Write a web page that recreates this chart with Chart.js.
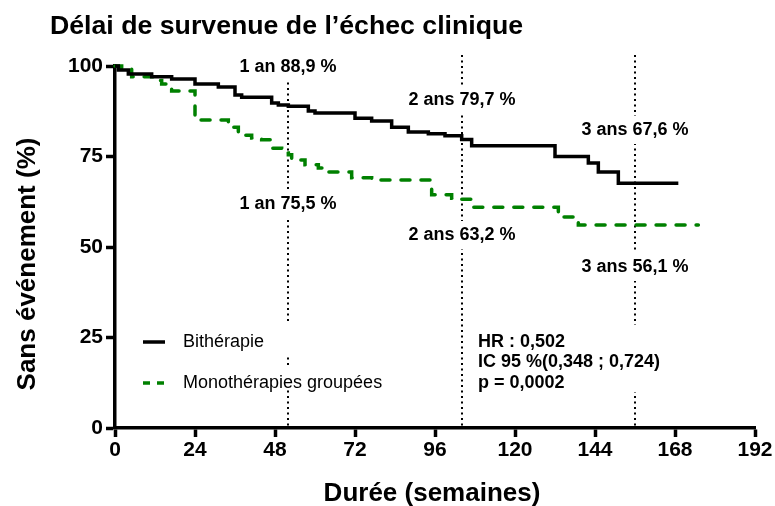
<!DOCTYPE html>
<html lang="fr">
<head>
<meta charset="utf-8">
<title>Délai de survenue de l’échec clinique</title>
<script src="https://cdn.jsdelivr.net/npm/chart.js@4.4.1/dist/chart.umd.min.js"></script>
<style>
  html, body { margin: 0; padding: 0; background: #fff; }
  #wrap { width: 775px; height: 506px; }
</style>
</head>
<body>
<div id="wrap"><canvas id="chart" width="775" height="506"></canvas></div>
<script>
// courbes de Kaplan-Meier (semaines, % sans événement)
const weeksBi  = [0, 1, 4, 11, 17, 24, 31, 36, 38, 47, 49, 52, 58, 60, 72, 77, 83, 88, 94, 99, 104, 107, 132, 142, 145, 151, 169];
const survieBi = [100, 98.9, 97.8, 97.0, 96.4, 95.0, 94.2, 92.0, 91.4, 89.8, 89.2, 88.9, 87.6, 87.0, 85.6, 84.8, 83.1, 81.8, 81.3, 80.7, 79.7, 78.0, 75.0, 73.2, 70.7, 67.6, 67.6];

const weeksMono  = [0, 2, 5, 12, 14, 17, 24, 34, 37, 41, 44, 47, 50, 52, 53, 57, 61, 64, 71, 77, 95, 101, 104, 107, 133, 139, 175];
const survieMono = [100, 99.3, 97.0, 96.0, 95.0, 93.1, 85.1, 83.1, 80.9, 80.1, 79.6, 77.3, 76.0, 75.5, 74.0, 72.7, 71.8, 70.7, 69.1, 68.5, 64.4, 63.5, 63.2, 61.0, 58.3, 56.1, 56.1];

const seriesNames = ['Bithérapie', 'Monothérapies groupées'];

// repères 1, 2 et 3 ans
const milestoneWeeks = [52, 104, 156];
const labelsBi   = ['1 an 88,9 %', '2 ans 79,7 %', '3 ans 67,6 %'];
const labelsMono = ['1 an 75,5 %', '2 ans 63,2 %', '3 ans 56,1 %'];

const statsLines = ['HR : 0,502', 'IC 95 %(0,348 ; 0,724)', 'p = 0,0002'];

const xTickValues = [0, 24, 48, 72, 96, 120, 144, 168, 192];
const yTickValues = [0, 25, 50, 75, 100];

const FONT = '"Liberation Sans", Arial, sans-serif';
const GREEN = 'rgb(0,128,0)';

Chart.defaults.font.family = FONT;
Chart.defaults.color = '#000';

function toPoints(xs, ys) {
    return xs.map((x, i) => ({ x: x, y: ys[i] }));
}

function boxedText(ctx, text, cx, cy) {
    ctx.font = 'bold 18px ' + FONT;
    const w = ctx.measureText(text).width;
    ctx.fillStyle = '#fff';
    ctx.fillRect(cx - w / 2 - 4, cy - 14, w + 8, 28);
    ctx.fillStyle = '#000';
    ctx.textAlign = 'center';
    ctx.textBaseline = 'middle';
    ctx.fillText(text, cx, cy);
}

const annotations = {
    id: 'annotations',
    beforeDatasetsDraw(chart) {
        const { ctx, chartArea } = chart;
        const x = chart.scales.x;
        ctx.save();
        ctx.strokeStyle = '#000';
        ctx.lineWidth = 2;
        ctx.setLineDash([2, 3.5]);
        milestoneWeeks.forEach(w => {
            const px = Math.round(x.getPixelForValue(w));
            ctx.beginPath();
            ctx.moveTo(px, 55);
            ctx.lineTo(px, chartArea.bottom);
            ctx.stroke();
        });
        ctx.restore();
    },
    afterDatasetsDraw(chart) {
        const { ctx } = chart;
        const x = chart.scales.x;
        const upperRows = [67, 100, 130];
        const lowerRows = [204, 235, 267];
        ctx.save();

        milestoneWeeks.forEach((w, i) => {
            const px = Math.round(x.getPixelForValue(w));
            boxedText(ctx, labelsBi[i], px, upperRows[i]);
            boxedText(ctx, labelsMono[i], px, lowerRows[i]);
        });

        // légende
        ctx.fillStyle = '#fff';
        ctx.fillRect(135, 324, 260, 30);
        ctx.fillRect(135, 367, 260, 20);

        ctx.lineWidth = 3.5;
        ctx.strokeStyle = '#000';
        ctx.beginPath();
        ctx.moveTo(143, 342);
        ctx.lineTo(165, 342);
        ctx.stroke();

        ctx.strokeStyle = GREEN;
        ctx.lineWidth = 3.5;
        ctx.setLineDash([7, 7]);
        ctx.beginPath();
        ctx.moveTo(143, 383);
        ctx.lineTo(165, 383);
        ctx.stroke();
        ctx.setLineDash([]);

        ctx.fillStyle = '#000';
        ctx.font = '18px ' + FONT;
        ctx.textAlign = 'left';
        ctx.textBaseline = 'middle';
        ctx.fillText(seriesNames[0], 183, 342);
        ctx.fillText(seriesNames[1], 183, 383);

        // HR / IC / p
        ctx.fillStyle = '#fff';
        ctx.fillRect(470, 325, 200, 67);
        ctx.fillStyle = '#000';
        ctx.font = 'bold 18px ' + FONT;
        statsLines.forEach((t, i) => ctx.fillText(t, 478, 342 + i * 20.5));

        // titres
        ctx.font = 'bold 26.7px ' + FONT;
        ctx.textAlign = 'left';
        ctx.textBaseline = 'alphabetic';
        ctx.fillText('Délai de survenue de l’échec clinique', 50, 34);

        ctx.font = 'bold 26px ' + FONT;
        ctx.textAlign = 'center';
        ctx.textBaseline = 'middle';
        ctx.fillText('Durée (semaines)', 432, 494);

        ctx.translate(28, 264);
        ctx.rotate(-Math.PI / 2);
        ctx.fillText('Sans événement (%)', 0, 0);

        ctx.restore();
    }
};

const tickFont = { family: FONT, size: 21, weight: 'bold' };

new Chart(document.getElementById('chart'), {
    type: 'line',
    data: {
        datasets: [
            {
                label: seriesNames[0],
                data: toPoints(weeksBi, survieBi),
                borderColor: '#000',
                borderWidth: 3.5,
                stepped: true,
                pointRadius: 0,
                fill: false,
                clip: false
            },
            {
                label: seriesNames[1],
                data: toPoints(weeksMono, survieMono),
                borderColor: GREEN,
                borderWidth: 3.5,
                borderDash: [9, 11],
                borderCapStyle: 'round',
                stepped: true,
                pointRadius: 0,
                fill: false,
                clip: false
            }
        ]
    },
    options: {
        responsive: false,
        animation: false,
        layout: { padding: { top: 66, right: 20, bottom: 0, left: 0 } },
        plugins: {
            legend: { display: false },
            title: { display: false },
            tooltip: { enabled: false }
        },
        scales: {
            x: {
                type: 'linear',
                min: 0,
                max: 192,
                afterFit: s => { s.height = 78; },
                afterBuildTicks: s => { s.ticks = xTickValues.map(v => ({ value: v })); },
                grid: { drawOnChartArea: false, drawTicks: true, tickLength: 9, tickWidth: 3.5, tickColor: '#000' },
                border: { display: true, width: 3.5, color: '#000' },
                ticks: { font: tickFont, color: '#000', padding: 1, maxRotation: 0, autoSkip: false }
            },
            y: {
                min: 0,
                max: 100,
                afterFit: s => { s.width = 115; },
                afterBuildTicks: s => { s.ticks = yTickValues.map(v => ({ value: v })); },
                grid: { drawOnChartArea: false, drawTicks: true, tickLength: 9, tickWidth: 3.5, tickColor: '#000' },
                border: { display: true, width: 3.5, color: '#000' },
                ticks: { font: tickFont, color: '#000', padding: 3 }
            }
        }
    },
    plugins: [annotations]
});
</script>
</body>
</html>
